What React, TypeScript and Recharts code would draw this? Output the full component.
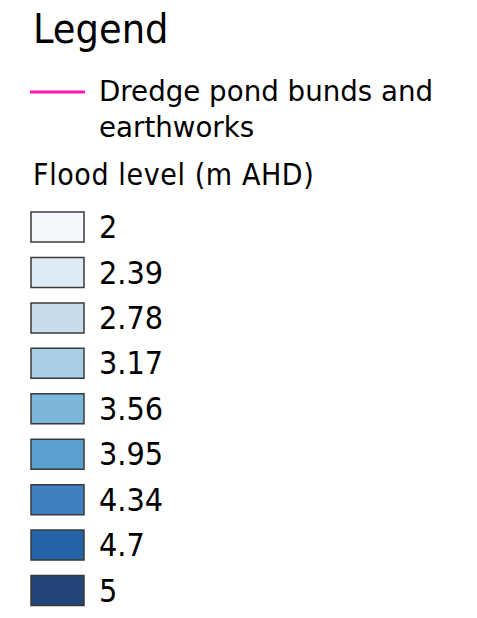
import React from 'react';
import { BarChart, Bar, XAxis, YAxis, Cell } from 'recharts';

// flood level classes (m AHD), lightest to darkest
const levels = ['2', '2.39', '2.78', '3.17', '3.56', '3.95', '4.34', '4.7', '5'];
const levelColors = [
    '#f5f9fe',
    '#deebf5',
    '#c8dcee',
    '#a8cfe3',
    '#7cb6db',
    '#5aa0ce',
    '#3c80be',
    '#2463a8',
    '#234578',
];
const lineLabel = ['Dredge pond bunds and', 'earthworks'];
const lineColor = '#ff16b4';

const FONT = "'DejaVu Sans Condensed', 'DejaVu Sans', sans-serif";
const FONT_WIDE = "'DejaVu Sans', sans-serif";

const App: React.FC = () => {
    const data = levels.map((label, i) => ({ label, span: 1, color: levelColors[i] }));

    return (
        <div style={{ position: 'absolute', left: 0, top: 0, width: 477, height: 618, background: '#fff' }}>
            <BarChart
                width={477}
                height={618}
                data={data}
                layout="vertical"
                margin={{ top: 204, right: 200, bottom: 5, left: 31 }}
                barSize={30}
            >
                <XAxis type="number" domain={[0, 1]} hide />
                <YAxis
                    type="category"
                    dataKey="label"
                    orientation="right"
                    width={193}
                    axisLine={false}
                    tickLine={false}
                    tickSize={0}
                    tickMargin={15}
                    tick={{ fontSize: 32, fill: '#000', fontFamily: FONT, textAnchor: 'start' }}
                    interval={0}
                />
                <Bar dataKey="span" isAnimationActive={false} stroke="#3a3a3a" strokeWidth={1.5}>
                    {data.map((d) => (
                        <Cell key={d.label} fill={d.color} />
                    ))}
                </Bar>

                {/* legend header */}
                <text x={33} y={43} fontSize={41} fontFamily={FONT} fill="#000">Legend</text>
                <line x1={30} x2={85} y1={92} y2={92} stroke={lineColor} strokeWidth={3} />
                <text x={99} y={101} fontSize={27.7} fontFamily={FONT_WIDE} fill="#000">{lineLabel[0]}</text>
                <text x={99} y={137} fontSize={27.7} fontFamily={FONT_WIDE} fill="#000">{lineLabel[1]}</text>
                <text x={33} y={185} fontSize={30} fontFamily={FONT} fill="#000" letterSpacing={0.6}>Flood level (m AHD)</text>
            </BarChart>
        </div>
    );
};

export default App;
